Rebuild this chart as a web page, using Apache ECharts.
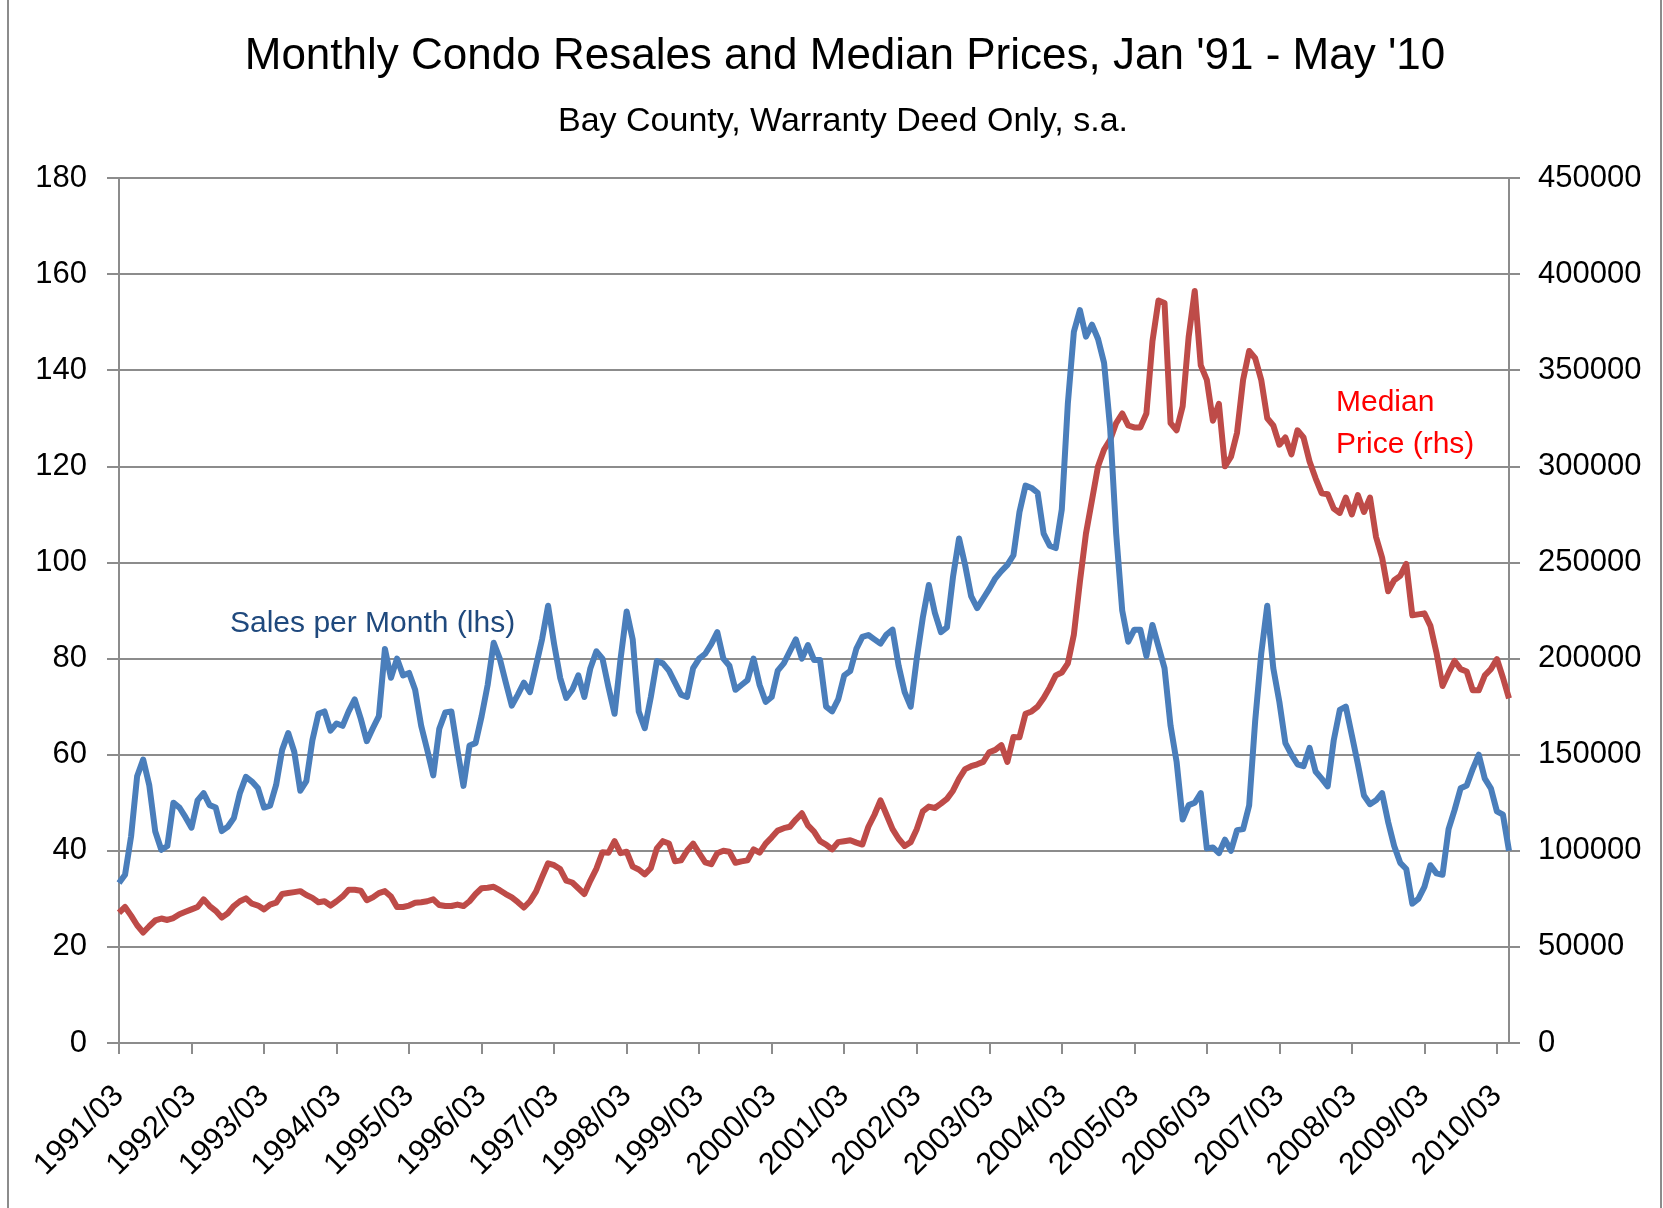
<!DOCTYPE html>
<html>
<head>
<meta charset="utf-8">
<script src="https://cdn.jsdelivr.net/npm/echarts@6/dist/echarts.min.js"></script>
<style>
  html, body { margin: 0; padding: 0; background: #fff; }
  #chart { width: 1663px; height: 1208px; }
</style>
</head>
<body>
<div id="chart"></div>
<script>
// monthly, 1991/03 .. 2010/05
const startYear = 1991;
const startMonth = 3;
const monthCount = 231;

const salesPerMonth = [
  33.3, 35, 43, 55.5, 59, 53.7, 44, 40.2, 41, 50, 49, 47,
  44.8, 50.5, 52, 49.5, 49, 44.1, 45, 46.8, 52, 55.4, 54.4, 53,
  49, 49.4, 53.7, 61, 64.5, 60.6, 52.5, 54.5, 63, 68.5, 69, 65,
  66.5, 66, 69, 71.5, 67.5, 62.8, 65.5, 68, 82, 76, 80, 76.5,
  77, 73.5, 66, 61, 55.7, 65.4, 68.8, 69, 61, 53.5, 61.9, 62.4,
  68, 74.5, 83.3, 80, 75, 70.2, 72.5, 75, 73, 78.5, 84, 91,
  83, 76, 71.8, 73.5, 76.5, 72, 78, 81.5, 80, 74, 68.5, 80,
  89.8, 84, 69, 65.5, 72, 79.5, 79, 77.5, 75, 72.5, 72, 78,
  80, 81, 83, 85.5, 80, 78.5, 73.5, 74.5, 75.5, 80, 74.5, 71,
  72, 77.5, 79, 81.5, 84, 80, 82.8, 79.7, 79.7, 70, 69, 71.5,
  76.5, 77.4, 82, 84.5, 84.9, 84, 83.1, 85, 86, 78.5, 73, 70,
  80, 88.5, 95.3, 89.5, 85.5, 86.5, 97, 105, 99.5, 93, 90.5, 92.5,
  94.5, 96.7, 98.2, 99.5, 101.5, 110.5, 116, 115.5, 114.5, 106, 103.5, 103,
  111, 133, 148, 152.5, 147, 149.5, 146.5, 141.5, 128, 106, 90, 83.5,
  86, 86, 80.5, 87, 82.5, 78, 66, 58.5, 46.5, 49.5, 50, 52,
  40.5, 40.7, 39.5, 42.3, 40, 44.3, 44.5, 49.4, 67, 81, 91, 78,
  71, 62.4, 60, 58, 57.6, 61.4, 56.5, 55, 53.4, 63, 69.3, 70,
  64, 58, 51.5, 49.7, 50.5, 52, 46, 41, 37.5, 36.2, 29, 30,
  32.5, 37, 35.3, 35, 44.5, 48.5, 53, 53.6, 57, 60, 55, 53,
  48.2, 47.5, 40
];

const medianPrice = [
  67750, 70750, 66250, 61250, 57500, 60750, 63750, 64750, 64000, 65000, 67000, 68250,
  69500, 70750, 74750, 71250, 68750, 65250, 67500, 71250, 73750, 75250, 72500, 71500,
  69500, 72000, 73000, 77500, 78000, 78500, 79000, 77000, 75500, 73250, 73750, 71500,
  73750, 76250, 79750, 79750, 79250, 74250, 75750, 78000, 79000, 76250, 70750, 70750,
  71500, 73000, 73250, 73750, 74750, 71750, 71250, 71250, 72000, 71250, 73750, 77500,
  80500, 80750, 81250, 79500, 77500, 75750, 73250, 70500, 73750, 78750, 86250, 93500,
  92500, 90500, 84500, 83500, 80500, 77500, 84500, 90750, 99250, 99000, 105000, 98750,
  99500, 91750, 90250, 87750, 91000, 101250, 105000, 103750, 94500, 95000, 100000, 103750,
  98750, 94000, 93000, 98750, 100000, 99500, 93750, 94500, 95000, 100750, 99000, 103750,
  107000, 110500, 111750, 112500, 116250, 119500, 113250, 110000, 105000, 103250, 100750, 104500,
  105000, 105500, 104250, 103250, 112500, 118750, 126250, 118750, 111250, 106250, 102500, 104500,
  111250, 120500, 123000, 122250, 124500, 127000, 131250, 137500, 142500, 144000, 145000, 146250,
  151250, 152500, 155000, 146250, 159250, 159000, 171250, 172500, 175000, 179500, 185000, 191250,
  192750, 197500, 212500, 240000, 265000, 282500, 300000, 308750, 313750, 322500, 327500, 321250,
  320250, 320250, 327500, 365000, 386250, 385000, 322500, 318750, 331250, 367500, 391250, 352500,
  345000, 323750, 332500, 300000, 305000, 317500, 345000, 360000, 356250, 345000, 325000, 321250,
  311250, 315000, 306250, 318750, 315000, 302500, 293750, 286000, 285500, 278000, 275750, 283750,
  275000, 285000, 276250, 283750, 263250, 252500, 235000, 240750, 243000, 249250, 222500, 223000,
  223500, 217000, 203000, 185750, 192500, 198750, 194500, 193250, 183500, 183500, 191250, 194500,
  199750, 190000, 179250
];

const months = [];
for (let k = 0; k < monthCount; k++) {
  const m = startMonth - 1 + k;
  const y = startYear + Math.floor(m / 12);
  const mm = (m % 12) + 1;
  months.push(y + "/" + (mm < 10 ? "0" + mm : mm));
}

const font = "'Liberation Sans', Arial, sans-serif";
const gridGray = "#8c8c8c";
const everyYear = (i) => i % 12 === 0;

const chart = echarts.init(document.getElementById("chart"));

const option = {
  animation: false,
  backgroundColor: "#fff",
  title: [
    {
      text: "Monthly Condo Resales and Median Prices, Jan '91 - May '10",
      left: 840,
      top: 30,
      textAlign: "center",
      textStyle: { fontFamily: font, fontSize: 44, fontWeight: "normal", color: "#000" },
    },
    {
      text: "Bay County, Warranty Deed Only, s.a.",
      left: 838,
      top: 100,
      textAlign: "center",
      textStyle: { fontFamily: font, fontSize: 34, fontWeight: "normal", color: "#000" },
    },
  ],
  grid: { left: 119, right: 154, top: 178, bottom: 165 },
  xAxis: {
    type: "category",
    data: months,
    boundaryGap: false,
    axisLine: { lineStyle: { color: gridGray, width: 2 } },
    axisTick: {
      show: true,
      length: 11,
      interval: everyYear,
      lineStyle: { color: gridGray, width: 2 },
    },
    axisLabel: {
      interval: everyYear,
      rotate: 45,
      margin: 48,
      fontFamily: font,
      fontSize: 31,
      color: "#000",
    },
    splitLine: { show: false },
  },
  yAxis: [
    {
      type: "value",
      min: 0,
      max: 180,
      interval: 20,
      axisLine: { show: true, lineStyle: { color: gridGray, width: 2 } },
      axisTick: { show: true, length: 12, lineStyle: { color: gridGray, width: 2 } },
      axisLabel: { fontFamily: font, fontSize: 31, color: "#000", margin: 32 },
      splitLine: { lineStyle: { color: gridGray, width: 2 } },
    },
    {
      type: "value",
      min: 0,
      max: 450000,
      interval: 50000,
      axisLine: { show: true, lineStyle: { color: gridGray, width: 2 } },
      axisTick: { show: true, length: 11, lineStyle: { color: gridGray, width: 2 } },
      axisLabel: {
        fontFamily: font,
        fontSize: 31,
        color: "#000",
        margin: 29,
        formatter: (v) => String(v),
      },
      splitLine: { show: false },
    },
  ],
  series: [
    {
      name: "Sales per Month (lhs)",
      type: "line",
      data: salesPerMonth,
      yAxisIndex: 0,
      showSymbol: false,
      lineStyle: { color: "#4a7ebb", width: 6, join: "round" },
      z: 3,
    },
    {
      name: "Median Price (rhs)",
      type: "line",
      data: medianPrice,
      yAxisIndex: 1,
      showSymbol: false,
      lineStyle: { color: "#be4b48", width: 6, join: "round" },
      z: 2,
    },
  ],
  graphic: [
    {
      type: "line",
      shape: { x1: 8, y1: 0, x2: 8, y2: 1208 },
      style: { stroke: gridGray, lineWidth: 2 },
      silent: true,
    },
    {
      type: "line",
      shape: { x1: 1661, y1: 0, x2: 1661, y2: 1208 },
      style: { stroke: gridGray, lineWidth: 2 },
      silent: true,
    },
    {
      type: "text",
      left: 230,
      top: 609,
      style: { text: "Sales per Month (lhs)", font: "30px " + font, fill: "#1f497d" },
    },
    {
      type: "text",
      left: 1336,
      top: 382,
      style: { text: "Median\nPrice (rhs)", font: "30px " + font, fill: "#ff0000", lineHeight: 42 },
    },
  ],
};

chart.setOption(option);
</script>
</body>
</html>
